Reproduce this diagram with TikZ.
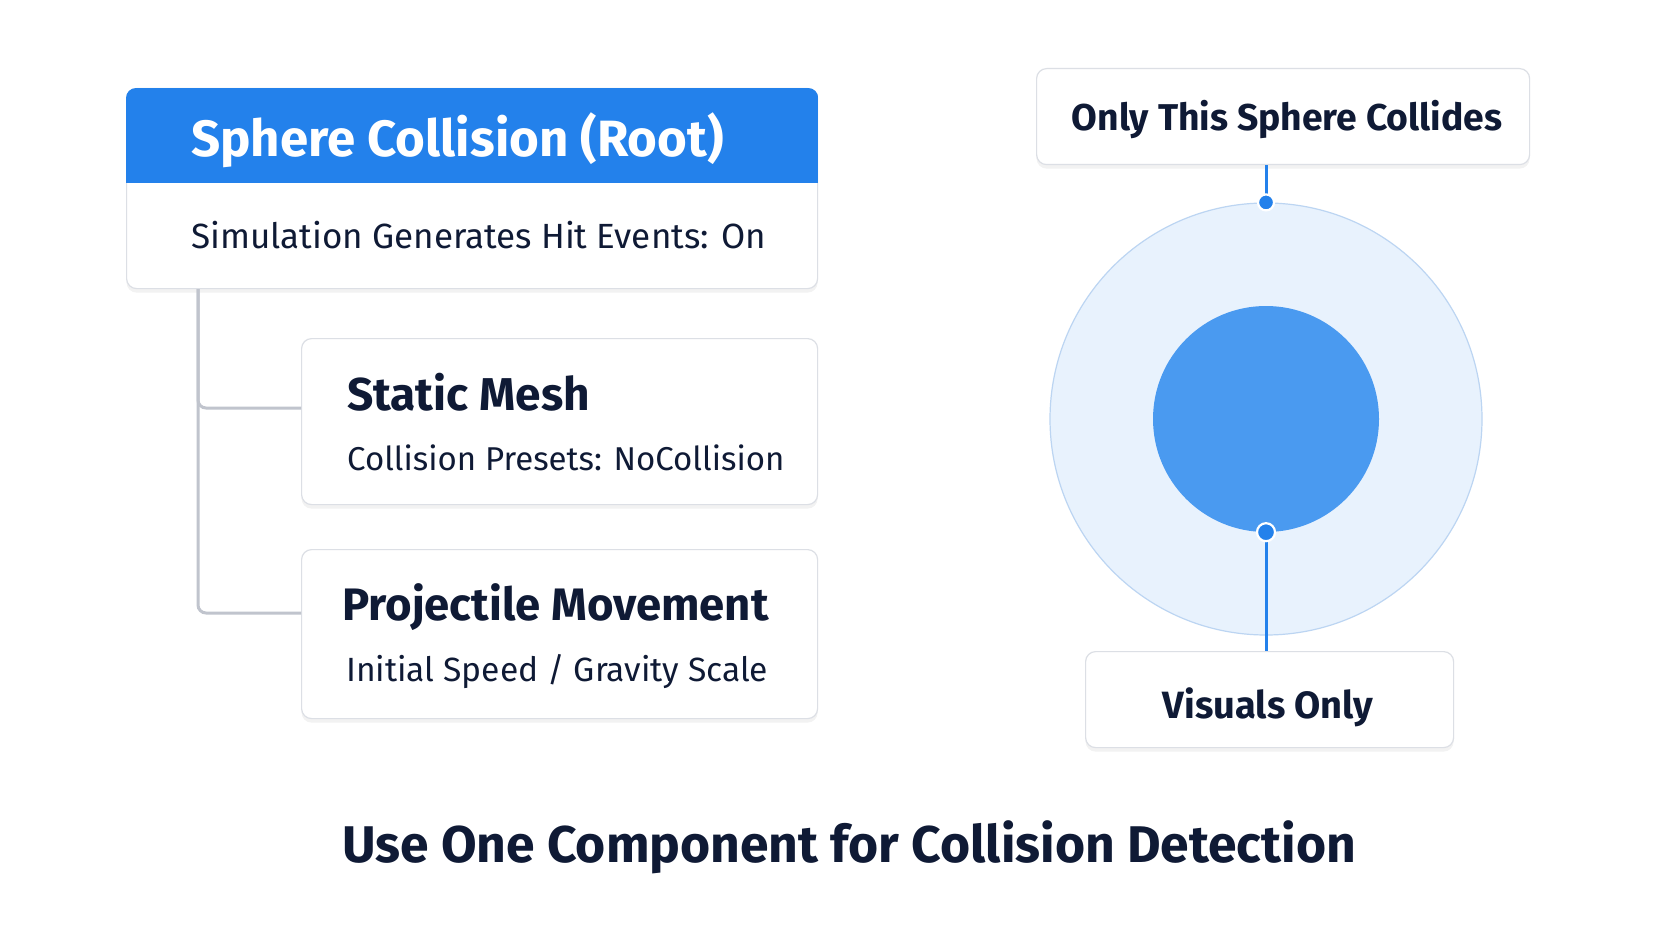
\documentclass[tikz,border=0pt]{standalone}
\usepackage{fontspec}
\setmainfont{Fira Sans}
\usetikzlibrary{arrows.meta,positioning,calc,shadows}
\definecolor{hdrblue}{HTML}{2381EB}
\definecolor{coreblue}{HTML}{4A9AF0}
\definecolor{hullfill}{HTML}{E8F2FD}
\definecolor{hullline}{HTML}{BCD5F2}
\definecolor{inkblue}{HTML}{0F1A35}
\definecolor{treegray}{HTML}{C0C4CD}
\definecolor{cardline}{HTML}{DCDFE5}
\newcommand{\pxfont}[1]{\fontsize{#1}{#1}\selectfont}

\begin{document}
\begin{tikzpicture}[x=1pt,y=-1pt,
  card/.style={draw=cardline,line width=1.2pt,fill=white,rounded corners=10pt,
    drop shadow={opacity=0.10,shadow xshift=0pt,shadow yshift=-4pt},
    anchor=north west,inner sep=0pt},
  label/.style={text=inkblue,inner sep=0pt,anchor=base west},
  pin/.style={draw=white,line width=2.2pt,fill=hdrblue}]
  \useasboundingbox[fill=white] (0,0) rectangle (1672,941);
  % left: component tree
  \node[card,minimum width=691pt,minimum height=200pt] (root) at (126,88) {};
  \begin{scope}
    \clip[rounded corners=10pt] (root.north west) rectangle (root.south east);
    \fill[hdrblue] (root.north west) rectangle ($(root.north east)+(0,95)$);
  \end{scope}
  \node[label,text=white,font=\pxfont{51}\bfseries] (roottitle) at (191,157) {Sphere Collision (Root)};
  \node[label,font=\pxfont{35}] (rootprop) at (191,248) {Simulation Generates Hit Events: On};
  \node[card,minimum width=516pt,minimum height=166pt] (mesh) at (301,338) {};
  \node[label,font=\pxfont{46}\bfseries] (meshtitle) at (347,410) {Static Mesh};
  \node[label,font=\pxfont{33}] (meshprop) at (347,470) {Collision Presets: NoCollision};
  \node[card,minimum width=516pt,minimum height=169pt] (proj) at (301,549) {};
  \node[label,font=\pxfont{45.5}\bfseries] (projtitle) at (342,620) {Projectile Movement};
  \node[label,font=\pxfont{33.6}] (projprop) at (346,681) {Initial Speed / Gravity Scale};
  \draw[treegray,line width=3pt,rounded corners=8pt] (root.south -| 198,0) |- ($(mesh.north west)+(0,70)$);
  \draw[treegray,line width=3pt,rounded corners=8pt] (root.south -| 198,0) |- ($(proj.north west)+(0,64)$);
  % right: collision sphere
  \node[circle,draw=hullline,line width=1.2pt,fill=hullfill,minimum size=432pt,inner sep=0pt] (hull) at (1266,419) {};
  \node[circle,fill=coreblue,minimum size=226pt,inner sep=0pt] (core) at (hull.center) {};
  \node[card,minimum width=493pt,minimum height=96pt] (collides) at (1036,68) {};
  \node[label,anchor=base,font=\pxfont{37.3}\bfseries] (collidestext) at (1287,131) {Only This Sphere Collides};
  \node[card,minimum width=368pt,minimum height=96pt] (visuals) at (1085,651) {};
  \node[label,anchor=base,font=\pxfont{38}\bfseries] (visualstext) at (1268,718) {Visuals Only};
  \draw[hdrblue,line width=3pt] (collides.south -| hull.north) -- (hull.north);
  \draw[hdrblue,line width=3pt] (core.south) -- (visuals.north -| core.south);
  \filldraw[pin] (hull.north) circle (8pt);
  \filldraw[pin] (core.south) circle (9pt);
  % caption
  \node[label,anchor=base,font=\pxfont{51.6}\bfseries] (caption) at (849,862) {Use One Component for Collision Detection};
\end{tikzpicture}
\end{document}
